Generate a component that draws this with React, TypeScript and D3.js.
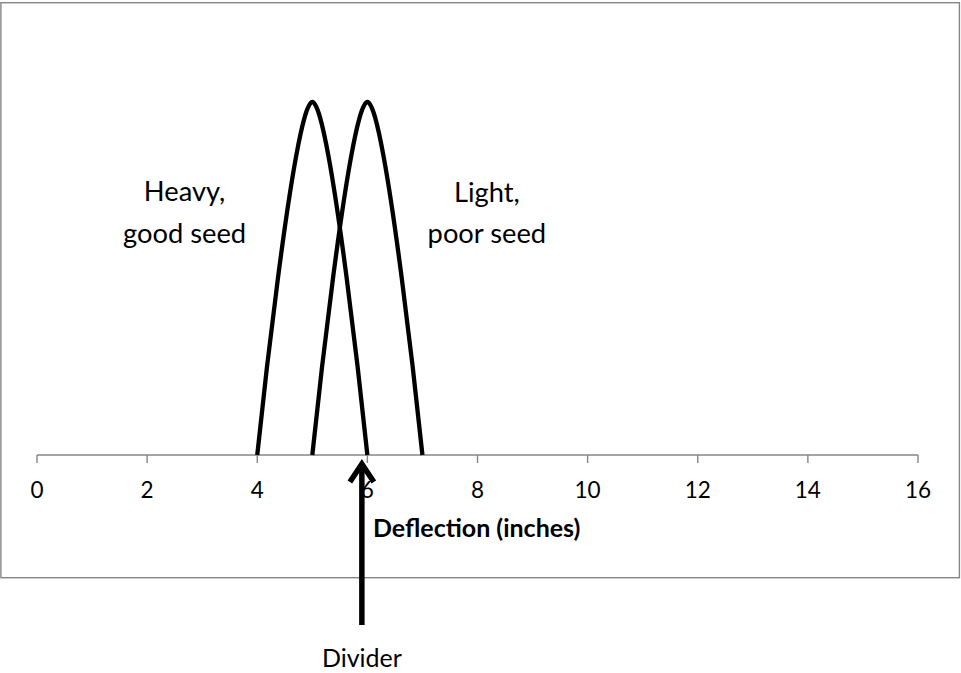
import React from "react";
import * as d3 from "d3";

const xTicks = [0, 2, 4, 6, 8, 10, 12, 14, 16];
const heavyX = [4, 5, 6];
const heavyY = [0, 1, 0];
const lightX = [5, 6, 7];
const lightY = [0, 1, 0];
const dividerX = 5.9;
const heavyLabel = ["Heavy,", "good seed"];
const lightLabel = ["Light,", "poor seed"];
const heavyLabelX = 2.68;
const lightLabelX = 8.17;
const xTitle = "Deflection (inches)";
const dividerLabel = "Divider";

const W = 961;
const H = 673;
const FONT = "Lato, 'Open Sans', sans-serif";

export default function App() {
  const x = d3.scaleLinear().domain([0, 16]).range([37, 918]);
  const y = d3.scaleLinear().domain([0, 1]).range([455, 102]);
  const line = d3
    .line<[number, number]>()
    .x((d) => x(d[0]))
    .y((d) => y(d[1]))
    .curve(d3.curveCardinal.tension(0));
  const heavy = heavyX.map((v, i) => [v, heavyY[i]] as [number, number]);
  const light = lightX.map((v, i) => [v, lightY[i]] as [number, number]);
  const y0 = y(0);
  const dx = x(dividerX);
  const axisColor = "#868686";

  return (
    <svg
      width={W}
      height={H}
      style={{ position: "absolute", left: 0, top: 0, background: "#fff" }}
      fontFamily={FONT}
    >
      <rect x={0.9} y={2.7} width={958.5} height={575} fill="#fff" stroke={axisColor} strokeWidth={1.4} />
      <line x1={x(0)} x2={x(16)} y1={y0} y2={y0} stroke={axisColor} strokeWidth={1.4} />
      {xTicks.map((t) => (
        <g key={t}>
          <line x1={x(t)} x2={x(t)} y1={y0} y2={y0 + 8} stroke={axisColor} strokeWidth={1.4} />
          <text x={x(t)} y={497.5} textAnchor="middle" fontSize={22.5} fill="#000">
            {t}
          </text>
        </g>
      ))}
      <path d={line(heavy) || ""} fill="none" stroke="#000" strokeWidth={4.3} />
      <path d={line(light) || ""} fill="none" stroke="#000" strokeWidth={4.3} />
      {heavyLabel.map((s, i) => (
        <text key={s} x={x(heavyLabelX)} y={201 + i * 42} textAnchor="middle" fontSize={27.3} fill="#000">
          {s}
        </text>
      ))}
      {lightLabel.map((s, i) => (
        <text key={s} x={x(lightLabelX)} y={201.5 + i * 41.5} textAnchor="middle" fontSize={27.3} fill="#000">
          {s}
        </text>
      ))}
      <text x={476.7} y={536.5} textAnchor="middle" fontSize={25} fontWeight="bold" fill="#000">
        {xTitle}
      </text>
      <line x1={dx} x2={dx} y1={y0 + 9} y2={625} stroke="#000" strokeWidth={5.5} />
      <path
        d={`M${dx - 12},${y0 + 27} L${dx},${y0 + 9} L${dx + 12},${y0 + 27}`}
        fill="none"
        stroke="#000"
        strokeWidth={5.5}
        strokeLinejoin="miter"
      />
      <text x={dx} y={666.5} textAnchor="middle" fontSize={25} fill="#000">
        {dividerLabel}
      </text>
    </svg>
  );
}
